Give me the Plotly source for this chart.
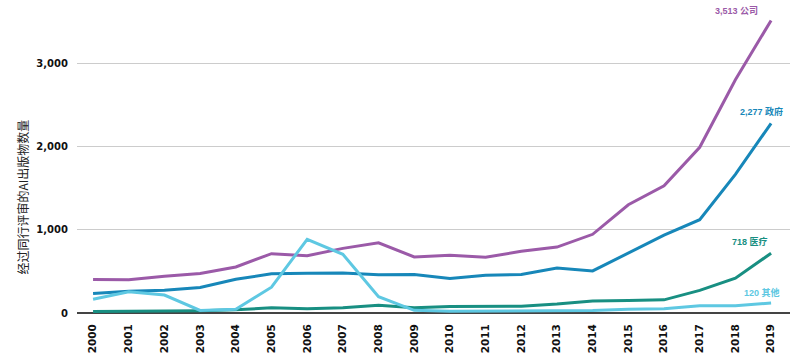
import plotly.graph_objects as go

years = list(range(2000, 2020))
company = [403, 400, 442, 474, 553, 712, 688, 776, 842, 673, 693, 670, 741, 792, 945, 1300, 1528, 1990, 2800, 3513]
government = [235, 262, 272, 307, 406, 470, 478, 480, 458, 462, 414, 454, 462, 541, 505, 722, 935, 1120, 1665, 2277]
medical = [18, 20, 24, 28, 40, 62, 50, 62, 92, 63, 78, 75, 80, 107, 145, 150, 158, 271, 417, 718]
other = [164, 255, 215, 30, 45, 310, 884, 705, 196, 32, 22, 22, 22, 22, 30, 45, 52, 88, 88, 120]

series_names = ["公司", "政府", "医疗", "其他"]
series_values = [company, government, medical, other]
colors = ["#9b5aa8", "#1787b9", "#188f82", "#5ec8e2"]
label_shifts = [(-11, 9), (14, 12), (-1, 12), (11, 11)]

y_tickvals = [0, 1000, 2000, 3000]
y_ticktext = ["0", "1,000", "2,000", "3,000"]

fig = go.Figure()
for name, vals, col in zip(series_names, series_values, colors):
    fig.add_trace(go.Scatter(x=years, y=vals, mode="lines", name=name,
                             line=dict(color=col, width=3), cliponaxis=False))

for name, vals, col, (xs, ys) in zip(series_names, series_values, colors, label_shifts):
    fig.add_annotation(x=years[-1], y=vals[-1], text=f"{vals[-1]:,} {name}",
                       showarrow=False, xanchor="right", yanchor="middle",
                       xshift=xs, yshift=ys,
                       font=dict(family="Liberation Sans, Noto Sans CJK SC", size=9, color=col, weight="bold"))

fig.add_annotation(xref="paper", yref="paper", x=-0.077, y=0.38,
                   text="经过同行评审的AI出版物数量", textangle=-90, showarrow=False,
                   xanchor="center", yanchor="middle",
                   font=dict(family="Noto Sans CJK SC", size=12, color="#222"))

fig.update_layout(
    width=800, height=354,
    margin=dict(l=77, r=10, t=9, b=41, autoexpand=False),
    plot_bgcolor="white", paper_bgcolor="white",
    showlegend=False,
    font=dict(family="DejaVu Sans", color="#222"),
)
fig.update_xaxes(range=[1999.55, 2019.53], tickvals=years, ticktext=[str(y) for y in years],
                 tickangle=-90, showgrid=False, zeroline=False, showline=False, ticks="",
                 ticklabelstandoff=8, automargin=False,
                 tickfont=dict(family="DejaVu Sans", size=10.5, color="#111", weight="bold"))
fig.update_yaxes(range=[0, 3650], tickvals=y_tickvals, ticktext=y_ticktext,
                 showgrid=True, gridcolor="#cccccc", gridwidth=1,
                 zeroline=True, zerolinecolor="#444", zerolinewidth=2,
                 ticks="", ticklabelstandoff=8, automargin=False,
                 tickfont=dict(family="DejaVu Sans", size=10, color="#111", weight="bold"))

fig.write_html("out.html")
